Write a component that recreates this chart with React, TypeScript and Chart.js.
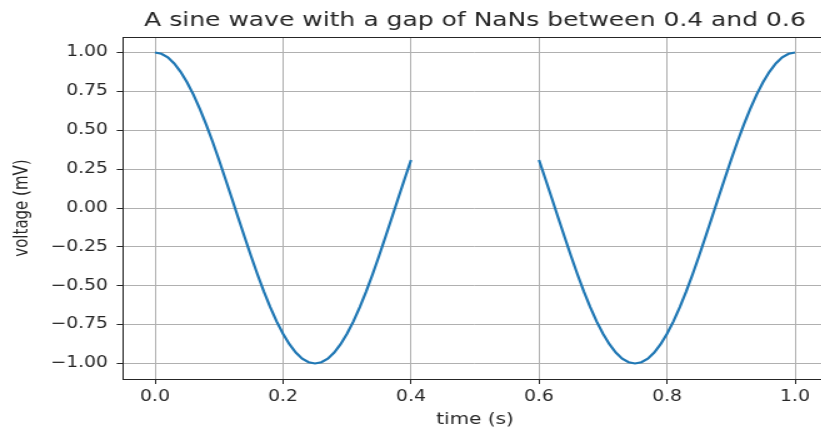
import React, { useEffect, useRef } from "react";
import { Chart, registerables } from "chart.js";

Chart.register(...registerables);

// ---- data ----
const chartTitle = "A sine wave with a gap of NaNs between 0.4 and 0.6";
const xAxisTitle = "time (s)";
const yAxisTitle = "voltage (mV)";

const timeS = [
  0.0, 0.01, 0.02, 0.03, 0.04, 0.05, 0.06, 0.07, 0.08, 0.09,
  0.1, 0.11, 0.12, 0.13, 0.14, 0.15, 0.16, 0.17, 0.18, 0.19,
  0.2, 0.21, 0.22, 0.23, 0.24, 0.25, 0.26, 0.27, 0.28, 0.29,
  0.3, 0.31, 0.32, 0.33, 0.34, 0.35, 0.36, 0.37, 0.38, 0.39,
  0.4, 0.41, 0.42, 0.43, 0.44, 0.45, 0.46, 0.47, 0.48, 0.49,
  0.5, 0.51, 0.52, 0.53, 0.54, 0.55, 0.56, 0.57, 0.58, 0.59,
  0.6, 0.61, 0.62, 0.63, 0.64, 0.65, 0.66, 0.67, 0.68, 0.69,
  0.7, 0.71, 0.72, 0.73, 0.74, 0.75, 0.76, 0.77, 0.78, 0.79,
  0.8, 0.81, 0.82, 0.83, 0.84, 0.85, 0.86, 0.87, 0.88, 0.89,
  0.9, 0.91, 0.92, 0.93, 0.94, 0.95, 0.96, 0.97, 0.98, 0.99,
  1.0,
];

const voltageMV: (number | null)[] = [
  1.0, 0.992, 0.969, 0.93, 0.876, 0.809, 0.729, 0.637, 0.536, 0.426,
  0.309, 0.187, 0.063, -0.063, -0.187, -0.309, -0.426, -0.536, -0.637, -0.729,
  -0.809, -0.876, -0.93, -0.969, -0.992, -1.0, -0.992, -0.969, -0.93, -0.876,
  -0.809, -0.729, -0.637, -0.536, -0.426, -0.309, -0.187, -0.063, 0.063, 0.187,
  0.309, null, null, null, null, null, null, null, null, null,
  null, null, null, null, null, null, null, null, null, null,
  0.309, 0.187, 0.063, -0.063, -0.187, -0.309, -0.426, -0.536, -0.637, -0.729,
  -0.809, -0.876, -0.93, -0.969, -0.992, -1.0, -0.992, -0.969, -0.93, -0.876,
  -0.809, -0.729, -0.637, -0.536, -0.426, -0.309, -0.187, -0.063, 0.063, 0.187,
  0.309, 0.426, 0.536, 0.637, 0.729, 0.809, 0.876, 0.93, 0.969, 0.992,
  1.0,
];

const xTickValues = [0.0, 0.2, 0.4, 0.6, 0.8, 1.0];
const xTickLabels = ["0.0", "0.2", "0.4", "0.6", "0.8", "1.0"];
const yTickValues = [-1.0, -0.75, -0.5, -0.25, 0.0, 0.25, 0.5, 0.75, 1.0];
const yTickLabels = [
  "\u22121.00", "\u22120.75", "\u22120.50", "\u22120.25", "0.00",
  "0.25", "0.50", "0.75", "1.00",
];

// ---- styling / layout ----
const STRETCH = 1.25; // horizontal stretch of the reference picture
const CSS_W = 840;
const H = 429;
const W = Math.round(CSS_W / STRETCH);
const FONT = "'DejaVu Sans', sans-serif";
const TEXT = "#262626";

const framePlugin = {
  id: "frame",
  afterDatasetsDraw(chart: any) {
    const { ctx, chartArea } = chart;
    ctx.save();
    ctx.strokeStyle = "#262626";
    ctx.lineWidth = 1;
    ctx.strokeRect(
      Math.round(chartArea.left) + 0.5,
      Math.round(chartArea.top) + 0.5,
      Math.round(chartArea.right - chartArea.left),
      Math.round(chartArea.bottom - chartArea.top)
    );
    ctx.restore();
  },
};

export default function App() {
  const ref = useRef<HTMLCanvasElement>(null);

  useEffect(() => {
    if (!ref.current) return;
    const chart = new Chart(ref.current, {
      type: "line",
      data: {
        datasets: [
          {
            data: timeS.map((t, i) => ({ x: t, y: voltageMV[i] })),
            borderColor: "#1f77b4",
            borderWidth: 2.2,
            pointRadius: 0,
            tension: 0,
            spanGaps: false,
            fill: false,
          },
        ],
      },
      options: {
        animation: false,
        responsive: false,
        devicePixelRatio: 1,
        layout: { padding: { left: 0, right: W - 827 / STRETCH, top: 0, bottom: 0 } },
        plugins: {
          legend: { display: false },
          tooltip: { enabled: false },
          title: {
            display: true,
            fullSize: false,
            text: chartTitle,
            color: TEXT,
            font: { family: FONT, size: 20, weight: "normal" },
            padding: { top: 9, bottom: 4 },
          },
        },
        scales: {
          x: {
            type: "linear",
            min: -0.05,
            max: 1.05,
            afterBuildTicks: (s: any) => {
              s.ticks = xTickValues.map((v) => ({ value: v }));
            },
            afterFit: (s: any) => {
              s.height = 50;
            },
            border: { display: false },
            grid: {
              color: "#b0b0b0",
              lineWidth: 1,
              drawTicks: true,
              tickLength: 5,
              tickColor: "#262626",
              tickWidth: 1,
            },
            ticks: {
              color: TEXT,
              font: { family: FONT, size: 15 },
              padding: 4,
              maxRotation: 0,
              callback: (_v: any, i: number) => xTickLabels[i],
            },
            title: {
              display: true,
              text: xAxisTitle,
              color: TEXT,
              font: { family: FONT, size: 16 },
              padding: { top: 0, bottom: 0 },
            },
          },
          y: {
            type: "linear",
            min: -1.1,
            max: 1.1,
            afterBuildTicks: (s: any) => {
              s.ticks = yTickValues.map((v) => ({ value: v }));
            },
            afterFit: (s: any) => {
              s.width = 123 / STRETCH;
            },
            border: { display: false },
            grid: {
              color: "#b0b0b0",
              lineWidth: 1,
              drawTicks: true,
              tickLength: 5,
              tickColor: "#262626",
              tickWidth: 1,
            },
            ticks: {
              color: TEXT,
              font: { family: FONT, size: 15 },
              padding: 7,
              callback: (_v: any, i: number) => yTickLabels[i],
            },
            title: {
              display: true,
              text: yAxisTitle,
              color: TEXT,
              font: { family: FONT, size: 15 },
              padding: { top: 9, bottom: 0 },
            },
          },
        },
      },
      plugins: [framePlugin],
    } as any);
    return () => chart.destroy();
  }, []);

  return (
    <div
      style={{
        position: "fixed",
        left: 0,
        top: 0,
        width: 821,
        height: H,
        overflow: "hidden",
        background: "#fff",
      }}
    >
      <canvas
        ref={ref}
        width={W}
        height={H}
        style={{ display: "block", width: CSS_W + "px", height: H + "px" }}
      />
    </div>
  );
}
